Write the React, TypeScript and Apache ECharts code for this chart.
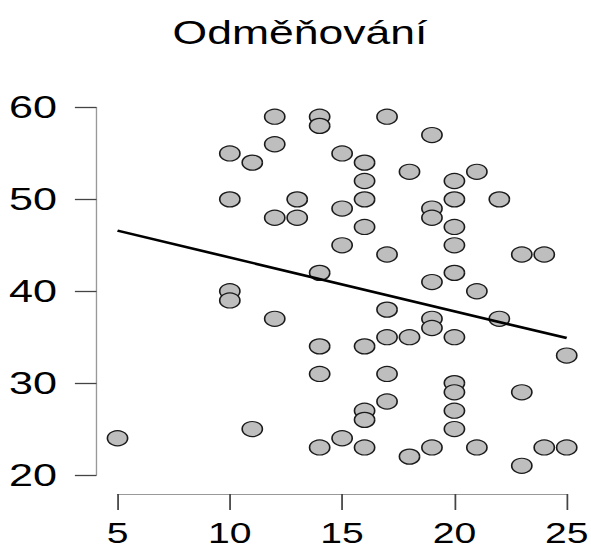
import React, { useEffect, useRef } from "react";
import * as echarts from "echarts";

// Reference picture is stretched horizontally; chart drawn at base width and scaled.
const STRETCH = 591 / 438;

const titleText = "Odměňování";
const xTicks = [5, 10, 15, 20, 25];
const yTicks = [20, 30, 40, 50, 60];

const xValues = [
  5, 10, 10, 10, 10, 11, 11, 12, 12, 12, 12, 13, 13, 14, 14, 14, 14, 14, 14,
  15, 15, 15, 15, 16, 16, 16, 16, 16, 16, 16, 16, 17, 17, 17, 17, 17, 17,
  18, 18, 18, 19, 19, 19, 19, 19, 19, 19, 20, 20, 20, 20, 20, 20, 20, 20, 20, 20,
  21, 21, 21, 22, 22, 23, 23, 23, 24, 24, 25, 25,
];
const yValues = [
  24, 55, 50, 40, 39, 54, 25, 59, 56, 48, 37, 50, 48, 59, 58, 42, 34, 31, 23,
  55, 49, 45, 24, 54, 52, 50, 47, 34, 27, 26, 23, 59, 44, 38, 35, 31, 28,
  53, 35, 22, 57, 49, 48, 41, 37, 36, 23, 52, 50, 47, 45, 42, 35, 30, 29, 27, 25,
  53, 40, 23, 50, 37, 44, 29, 21, 44, 23, 33, 23,
];
const fitX = [5, 25];
const fitY = [46.6, 34.9];

const FONT = "'Liberation Sans', Arial, Helvetica, sans-serif";

export default function App() {
  const ref = useRef<HTMLDivElement>(null);
  useEffect(() => {
    if (!ref.current) return;
    const chart = echarts.init(ref.current, null, { renderer: "svg" });
    const points = xValues.map((x, i) => [x, yValues[i]]);
    const fit = fitX.map((x, i) => [x, fitY[i]]);
    chart.setOption({
      animation: false,
      backgroundColor: "#fff",
      graphic: [
        {
          type: "text",
          x: 222.3,
          y: 16,
          style: {
            text: titleText,
            fontSize: 33,
            fontFamily: FONT,
            fill: "#000",
            align: "center",
            verticalAlign: "top",
            textAlign: "center",
            textVerticalAlign: "top",
          },
        },
      ],
      grid: {
        left: 87.1,
        right: 18,
        top: 107.5,
        bottom: 73,
        containLabel: false,
        outerBoundsMode: "none",
      },
      xAxis: {
        type: "value",
        min: xTicks[0],
        max: xTicks[xTicks.length - 1],
        interval: 5,
        offset: 19,
        axisLine: { show: true, onZero: false, lineStyle: { color: "#999", width: 1 } },
        axisTick: { show: true, length: 16, lineStyle: { color: "#444", width: 1.3 } },
        axisLabel: {
          margin: 24.5,
          fontSize: 29,
          lineHeight: 29,
          color: "#000",
          fontFamily: FONT,
        },
        splitLine: { show: false },
      },
      yAxis: {
        type: "value",
        min: yTicks[0],
        max: yTicks[yTicks.length - 1],
        interval: 10,
        offset: 15.6,
        axisLine: { show: true, onZero: false, lineStyle: { color: "#999", width: 1 } },
        axisTick: { show: true, length: 16, lineStyle: { color: "#444", width: 1.3 } },
        axisLabel: { margin: 29.3, fontSize: 32, color: "#000", fontFamily: FONT },
        splitLine: { show: false },
      },
      series: [
        {
          type: "scatter",
          data: points,
          symbol: "circle",
          symbolSize: 15,
          clip: false,
          itemStyle: { color: "#bebebe", borderColor: "#1a1a1a", borderWidth: 1.2, opacity: 1 },
          z: 2,
        },
        {
          type: "line",
          data: fit,
          symbol: "none",
          showSymbol: false,
          clip: false,
          lineStyle: { color: "#000", width: 2.6 },
          z: 3,
        },
      ],
    });
    return () => chart.dispose();
  }, []);
  return (
    <div
      style={{
        position: "absolute",
        left: 0,
        top: 0,
        width: 591,
        height: 548,
        overflow: "hidden",
        background: "#fff",
      }}
    >
      <div
        ref={ref}
        style={{
          width: 438,
          height: 548,
          transform: `scaleX(${STRETCH})`,
          transformOrigin: "0 0",
        }}
      />
    </div>
  );
}
